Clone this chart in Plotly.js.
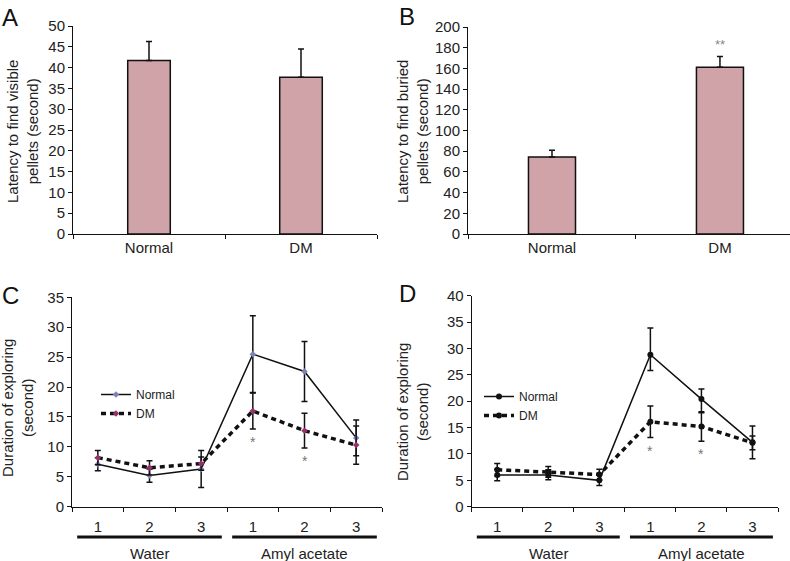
<!DOCTYPE html>
<html>
<head>
<meta charset="utf-8">
<script src="https://cdn.plot.ly/plotly-3.0.1.min.js"></script>
<style>
  html, body { margin: 0; padding: 0; background: #fff; }
  #chart { width: 790px; height: 561px; }
</style>
</head>
<body>
<div id="chart"></div>
<script>
// A and B: latency bars
const groupsAB = ['Normal', 'DM'];
const visibleMean = [41.7, 37.7];
const visibleErr = [4.6, 6.8];
const buriedMean = [74.5, 161];
const buriedErr = [6.5, 10.5];
const buriedStars = ['', '**'];

// C and D: duration of exploring per trial
const trialLabels = ['1', '2', '3', '1', '2', '3'];
const odorGroups = ['Water', 'Amyl acetate'];
const trialsPerGroup = 3;

const cNormal = [7.1, 5.2, 6.3, 25.5, 22.6, 11.5];
const cNormalErr = [1.1, 1.1, 3.1, 6.4, 5.0, 3.0];
const cDM = [8.2, 6.5, 7.2, 16.0, 12.7, 10.3];
const cDMErr = [1.2, 1.2, 1.1, 3.0, 2.9, 3.2];
const cStars = ['', '', '', '*', '*', ''];

const dNormal = [6.0, 6.0, 5.0, 28.8, 20.4, 12.2];
const dNormalErrUp = [1.1, 1.0, 1.0, 5.1, 1.9, 3.1];
const dNormalErrDown = [1.1, 0.9, 1.0, 3.0, 2.6, 3.1];
const dDM = [7.0, 6.6, 6.1, 16.1, 15.2, 12.1];
const dDMErr = [1.2, 1.0, 1.0, 3.0, 2.8, 1.3];
const dStars = ['', '', '', '*', '*', ''];

const yTitles = ['Latency to find visible<br>pellets (second)', 'Latency to find buried<br>pellets (second)',
  'Duration of exploring<br>(second)', 'Duration of exploring<br>(second)'];

const W = 790, H = 561;
const px = (a, b) => [a / W, b / W];
const py = (top, bottom) => [1 - bottom / H, 1 - top / H];
const trialX = trialLabels.map((_, i) => i);

const fam = 'Liberation Sans, Arial, sans-serif';
const font = { family: fam, size: 15, color: '#222' };

function barTrace(means, errs, xa, ya) {
  return {
    type: 'bar', x: groupsAB, y: means, xaxis: xa, yaxis: ya, width: 0.28,
    marker: { color: '#cfa3a8', line: { color: '#111', width: 1.5 } },
    error_y: { type: 'data', symmetric: false, array: errs, arrayminus: errs.map(() => 0),
      color: '#111', thickness: 1.5, width: 3 },
    showlegend: false, hoverinfo: 'y'
  };
}

function lineTrace(name, ys, up, down, xa, ya, opts) {
  return {
    type: 'scatter', mode: 'lines+markers', name: name, x: trialX, y: ys,
    xaxis: xa, yaxis: ya, legend: opts.legend,
    line: { color: '#111', width: opts.width, dash: opts.dash },
    marker: { symbol: opts.symbol, size: opts.size, color: opts.color },
    error_y: { type: 'data', symmetric: false, array: up, arrayminus: down,
      color: '#111', thickness: 1.5, width: 3 }
  };
}

const data = [
  barTrace(visibleMean, visibleErr, 'x', 'y'),
  barTrace(buriedMean, buriedErr, 'x2', 'y2'),
  lineTrace('Normal', cNormal, cNormalErr, cNormalErr, 'x3', 'y3',
    { legend: 'legend', width: 1.5, dash: 'solid', symbol: 'diamond', size: 5, color: '#7d82b9' }),
  lineTrace('DM', cDM, cDMErr, cDMErr, 'x3', 'y3',
    { legend: 'legend', width: 3.5, dash: '5px,4px', symbol: 'diamond', size: 5, color: '#9a2f6c' }),
  lineTrace('Normal', dNormal, dNormalErrUp, dNormalErrDown, 'x4', 'y4',
    { legend: 'legend2', width: 1.5, dash: 'solid', symbol: 'circle', size: 6, color: '#111' }),
  lineTrace('DM', dDM, dDMErr, dDMErr, 'x4', 'y4',
    { legend: 'legend2', width: 3.5, dash: '5px,4px', symbol: 'circle', size: 6, color: '#111' })
];

const axBase = { showline: true, linecolor: '#111', linewidth: 1, showgrid: false, zeroline: false,
  ticks: 'outside', ticklen: 4, tickcolor: '#111', automargin: false, fixedrange: true,
  tickfont: { family: fam, size: 15, color: '#222' } };

function catAxis(domain, anchor, range) {
  return Object.assign({}, axBase, { domain: domain, anchor: anchor, type: 'category',
    tickson: 'boundaries', range: range });
}
function trialAxis(domain, anchor) {
  return Object.assign({}, axBase, { domain: domain, anchor: anchor, range: [-0.5, 5.5],
    tickvals: trialX, ticktext: trialLabels, ticks: '', ticklabelstandoff: 6,
    minor: { ticks: 'outside', tick0: 0.5, dtick: 1, ticklen: 4, tickcolor: '#111' } });
}
function valAxis(domain, anchor, range, dtick) {
  return Object.assign({}, axBase, { domain: domain, anchor: anchor, range: range, dtick: dtick });
}

const annotations = [];
const letters = [['A', 0, 2], ['B', 397, 1], ['C', 0, 280], ['D', 397, 278]];
letters.forEach(([t, x, y]) => annotations.push({ text: t, xref: 'paper', yref: 'paper',
  x: x / W, y: 1 - y / H, xanchor: 'left', yanchor: 'top', showarrow: false,
  font: { family: fam, size: 24, color: '#111' } }));

// y axis titles, centred on where the reference puts them
const titlePos = [[22, 132], [412, 132], [17, 408], [412, 412]];
yTitles.forEach((t, i) => annotations.push({ text: t, textangle: -90, xref: 'paper', yref: 'paper',
  x: titlePos[i][0] / W, y: 1 - titlePos[i][1] / H, xanchor: 'center', yanchor: 'middle',
  showarrow: false, font: font }));

buriedStars.forEach((s, i) => {
  if (s) annotations.push({ text: s, xref: 'x2', yref: 'y2', x: groupsAB[i],
    y: buriedMean[i] + buriedErr[i], yanchor: 'bottom', yshift: 2, showarrow: false,
    font: { family: fam, size: 13, color: '#888' } });
});
[[cStars, cDM, cDMErr, 'x3', 'y3'], [dStars, dDM, dDMErr, 'x4', 'y4']].forEach(([stars, ys, err, xa, ya]) => {
  stars.forEach((s, i) => {
    if (s) annotations.push({ text: s, xref: xa, yref: ya, x: trialX[i], y: ys[i] - err[i],
      yanchor: 'top', yshift: -3, showarrow: false,
      font: { family: fam, size: 14, color: '#777' } });
  });
});

const shapes = [];
['x3', 'x4'].forEach(xa => {
  odorGroups.forEach((g, gi) => {
    const start = gi * trialsPerGroup, end = start + trialsPerGroup - 1;
    shapes.push({ type: 'line', xref: xa, yref: 'paper', x0: start - 0.4, x1: end + 0.4,
      y0: 1 - 537 / H, y1: 1 - 537 / H, line: { color: '#111', width: 3 } });
    annotations.push({ text: g, xref: xa, yref: 'paper', x: (start + end) / 2, y: 1 - 553 / H,
      yanchor: 'middle', showarrow: false, font: font });
  });
});

const legendBase = { bgcolor: 'rgba(0,0,0,0)', borderwidth: 0, xanchor: 'left', yanchor: 'top',
  font: { family: fam, size: 12, color: '#222' }, tracegroupgap: 0, itemwidth: 30 };

const layout = {
  width: W, height: H, margin: { l: 0, r: 0, t: 0, b: 0 },
  paper_bgcolor: '#fff', plot_bgcolor: '#fff', font: font, showlegend: true,
  xaxis: catAxis(px(73, 377), 'y', [-0.5, 1.5]),
  yaxis: valAxis(py(26, 234), 'x', [0, 50], 5),
  xaxis2: catAxis(px(468, 790), 'y2', [-0.5, 1.417]),
  yaxis2: valAxis(py(27, 234), 'x2', [0, 200], 20),
  xaxis3: trialAxis(px(72, 382), 'y3'),
  yaxis3: valAxis(py(297.3, 506.7), 'x3', [0, 35], 5),
  xaxis4: trialAxis(px(471.7, 778), 'y4'),
  yaxis4: valAxis(py(295.7, 506.7), 'x4', [0, 40], 5),
  legend: Object.assign({}, legendBase, { x: 96 / W, y: 1 - 380 / H }),
  legend2: Object.assign({}, legendBase, { x: 479 / W, y: 1 - 382 / H }),
  annotations: annotations,
  shapes: shapes
};

Plotly.newPlot('chart', data, layout, { displayModeBar: false, staticPlot: true });
</script>
</body>
</html>
